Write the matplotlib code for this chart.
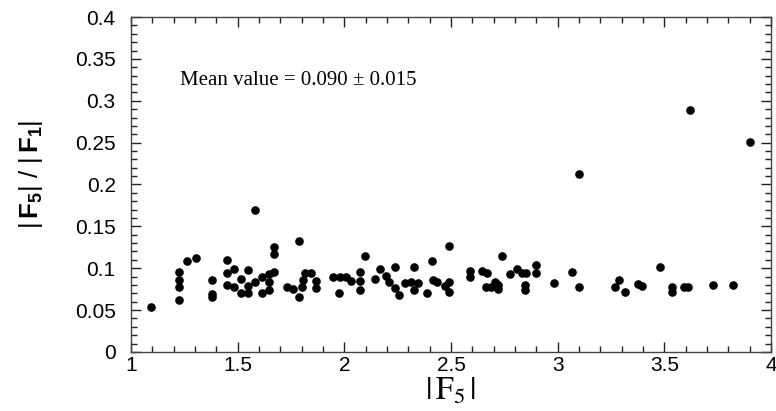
import matplotlib
matplotlib.use('Agg')
import matplotlib.pyplot as plt
from matplotlib.ticker import MultipleLocator, FormatStrFormatter

# |F5| values and ratio |F5|/|F1|
f5 = [1.094, 1.224, 1.224, 1.224, 1.224, 1.264, 1.305, 1.380, 1.380, 1.380,
      1.449, 1.449, 1.449, 1.483, 1.483, 1.517, 1.517, 1.547, 1.547, 1.547,
      1.581, 1.583, 1.613, 1.613, 1.645, 1.645, 1.645, 1.670, 1.670, 1.670,
      1.730, 1.761, 1.789, 1.789, 1.800, 1.805, 1.816, 1.842, 1.867, 1.867,
      1.949, 1.974, 1.980, 2.008, 2.030, 2.074, 2.074, 2.074, 2.098, 2.145,
      2.167, 2.195, 2.211, 2.238, 2.238, 2.258, 2.285, 2.313, 2.327, 2.327,
      2.347, 2.386, 2.410, 2.417, 2.436, 2.474, 2.490, 2.492, 2.492, 2.589,
      2.589, 2.646, 2.668, 2.664, 2.686, 2.706, 2.722, 2.722, 2.739, 2.777,
      2.811, 2.831, 2.852, 2.849, 2.849, 2.899, 2.899, 2.983, 3.067, 3.100,
      3.102, 3.269, 3.289, 3.317, 3.375, 3.395, 3.480, 3.535, 3.535, 3.593,
      3.611, 3.621, 3.730, 3.823, 3.902]
ratio = [0.054, 0.095, 0.0865, 0.077, 0.0615, 0.109, 0.112, 0.086, 0.069, 0.066,
         0.110, 0.094, 0.080, 0.099, 0.078, 0.071, 0.087, 0.098, 0.079, 0.071,
         0.169, 0.084, 0.089, 0.071, 0.093, 0.083, 0.074, 0.125, 0.117, 0.096,
         0.078, 0.075, 0.132, 0.066, 0.078, 0.086, 0.094, 0.094, 0.085, 0.076,
         0.089, 0.070, 0.089, 0.089, 0.085, 0.095, 0.085, 0.074, 0.115, 0.087,
         0.099, 0.091, 0.084, 0.101, 0.076, 0.068, 0.082, 0.084, 0.101, 0.074,
         0.082, 0.071, 0.109, 0.086, 0.083, 0.079, 0.126, 0.083, 0.072, 0.097,
         0.089, 0.097, 0.094, 0.078, 0.078, 0.083, 0.080, 0.075, 0.115, 0.093,
         0.099, 0.094, 0.094, 0.080, 0.074, 0.104, 0.094, 0.082, 0.095, 0.213,
         0.077, 0.078, 0.086, 0.072, 0.081, 0.079, 0.101, 0.078, 0.072, 0.078,
         0.077, 0.2885, 0.080, 0.080, 0.2505]

mean_text = 'Mean value = 0.090 \u00b1 0.015'

plt.rcParams['mathtext.fontset'] = 'custom'
plt.rcParams['mathtext.rm'] = 'Liberation Sans'
plt.rcParams['mathtext.bf'] = 'Liberation Sans:bold'

fig = plt.figure(figsize=(7.76, 4.11), dpi=100)
ax = fig.add_axes([0.1688, 0.1436, 0.8248, 0.815])

ax.plot(f5, ratio, 'o', color='black', markersize=6.2, markeredgewidth=0)

ax.set_xlim(1, 4)
ax.set_ylim(0, 0.4)
ax.xaxis.set_major_locator(MultipleLocator(0.5))
ax.xaxis.set_minor_locator(MultipleLocator(0.1))
ax.yaxis.set_major_locator(MultipleLocator(0.05))
ax.yaxis.set_minor_locator(MultipleLocator(0.01))
ax.xaxis.set_major_formatter(FormatStrFormatter('%g'))
ax.yaxis.set_major_formatter(FormatStrFormatter('%g'))

ax.tick_params(which='both', direction='in', top=True, right=True, width=1.0,
               color='#222222')
ax.tick_params(which='major', length=7.2)
ax.tick_params(which='minor', length=4)
ax.tick_params(axis='x', pad=3)
ax.tick_params(axis='y', pad=11)
for lab in ax.get_xticklabels() + ax.get_yticklabels():
    lab.set_fontfamily('Liberation Sans')
    lab.set_fontsize(15)
for sp in ax.spines.values():
    sp.set_linewidth(1.0)
    sp.set_color('#444444')

ax.text(1.23, 0.319, mean_text, family='Liberation Serif', fontsize=15,
        va='baseline', ha='left')

ax.set_xlabel(r'$|\,\mathrm{F}_5\,|$', fontsize=23, math_fontfamily='stix',
              va='top')
ax.xaxis.set_label_coords(0.5, -0.072)
ax.set_ylabel(r'$|\,\mathbf{F_5}| \;/\; |\,\mathbf{F_1}|$', fontsize=18.5)
ax.yaxis.set_label_coords(-0.135, 0.53)

fig.savefig('out.png', dpi=100)
